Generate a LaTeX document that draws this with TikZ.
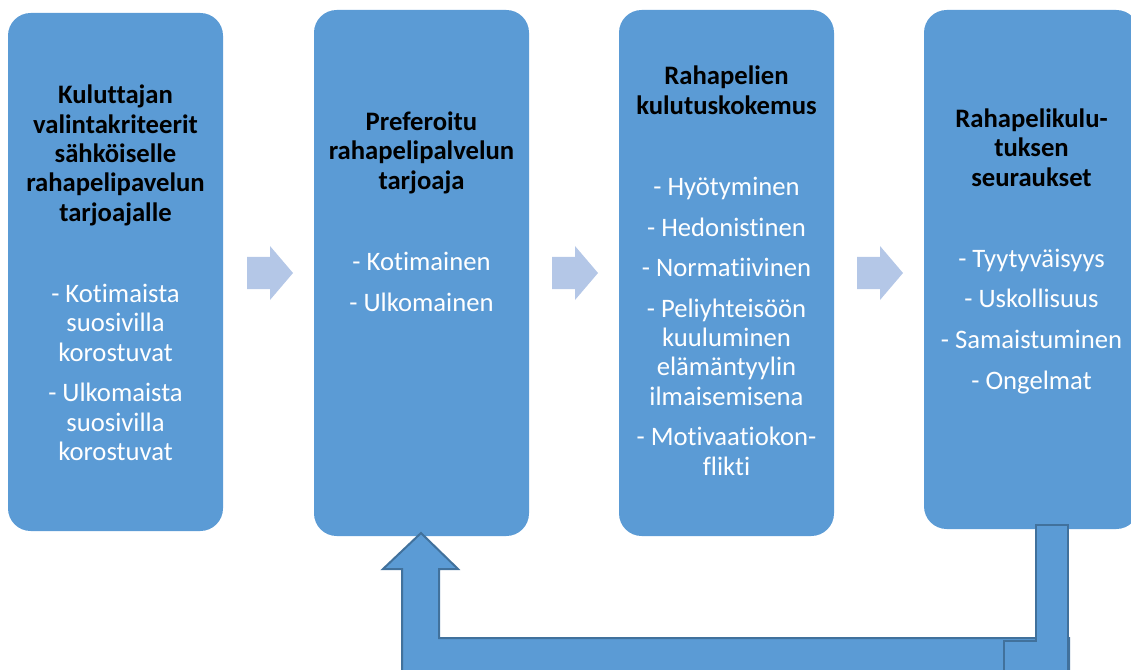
\documentclass[tikz,border=0pt]{standalone}
\usepackage{fontspec}
\setmainfont{Carlito}[Ligatures=NoCommon]
\definecolor{boxblue}{RGB}{91,155,213}
\definecolor{paleblue}{RGB}{180,199,231}
\definecolor{edgeblue}{RGB}{65,113,156}
\newcommand{\titleline}[1]{\textcolor{black}{\bfseries #1}}
\tikzset{
  panel/.style={fill=boxblue, draw=none, rounded corners=17pt, minimum width=161.25pt, inner sep=0pt},
  boxtext/.style={text=white, align=center, inner sep=0pt, anchor=base, font=\fontsize{20pt}{22pt}\selectfont},
  flowarrow/.style={fill=paleblue, draw=none},
  loopshape/.style={fill=boxblue, draw=edgeblue, line width=1.5pt, line join=miter}
}
\begin{document}
\begin{tikzpicture}[x=0.75pt, y=-0.75pt]
\useasboundingbox (0,0) rectangle (1131,670);
\clip (0,0) rectangle (1131,670);
% panels
\node[panel, minimum height=388.5pt] (b1) at (115.5,272) {};
\node[panel, minimum height=394.5pt] (b2) at (421.5,273) {};
\node[panel, minimum height=394.5pt] (b3) at (726.5,273) {};
\node[panel, minimum height=389.25pt] (b4) at (1031.5,269.5) {};
% texts (anchored at the baseline of the last line)
\node[boxtext] (t1) at (115.5,460.5) {\titleline{Kuluttajan}\\\titleline{valintakriteerit}\\\titleline{sähköiselle}\\\titleline{rahapelipavelun}\\\titleline{tarjoajalle}\\[39pt]- Kotimaista\\suosivilla\\korostuvat\\[8.4pt]- Ulkomaista\\suosivilla\\korostuvat};
\node[boxtext] (t2) at (421.5,311) {\titleline{Preferoitu}\\\titleline{rahapelipalvelun}\\\titleline{tarjoaja}\\[39pt]- Kotimainen\\[8.4pt]- Ulkomainen};
\node[boxtext] (t3) at (726.5,475) {\titleline{Rahapelien}\\\titleline{kulutuskokemus}\\[39pt]- Hyötyminen\\[8.4pt]- Hedonistinen\\[8.4pt]- Normatiivinen\\[8.4pt]- Peliyhteisöön\\kuuluminen\\elämäntyylin\\ilmaisemisena\\[8.4pt]- Motivaatiokon-\\flikti};
\node[boxtext] (t4) at (1031.5,389) {\titleline{Rahapelikulu-}\\\titleline{tuksen}\\\titleline{seuraukset}\\[39pt]- Tyytyväisyys\\[8.4pt]- Uskollisuus\\[8.4pt]- Samaistuminen\\[8.4pt]- Ongelmat};
% flow arrows between panels
\foreach \dx in {0,305,610}{
  \fill[flowarrow, xshift=\dx*0.75pt] (247,257) -- (270,257) -- (270,246) -- (293,273) -- (270,300) -- (270,289) -- (247,289) -- cycle;
}
% feedback loop arrow
\draw[loopshape] (402,690) -- (402,569) -- (383,569) -- (421,533) -- (458,569) -- (439,569) -- (439,638) -- (1069,638) -- (1069,690) -- cycle;
\draw[loopshape] (1036,525) -- (1068,525) -- (1068,690) -- (1004,690) -- (1004,641) -- (1036,641) -- cycle;
\end{tikzpicture}
\end{document}
